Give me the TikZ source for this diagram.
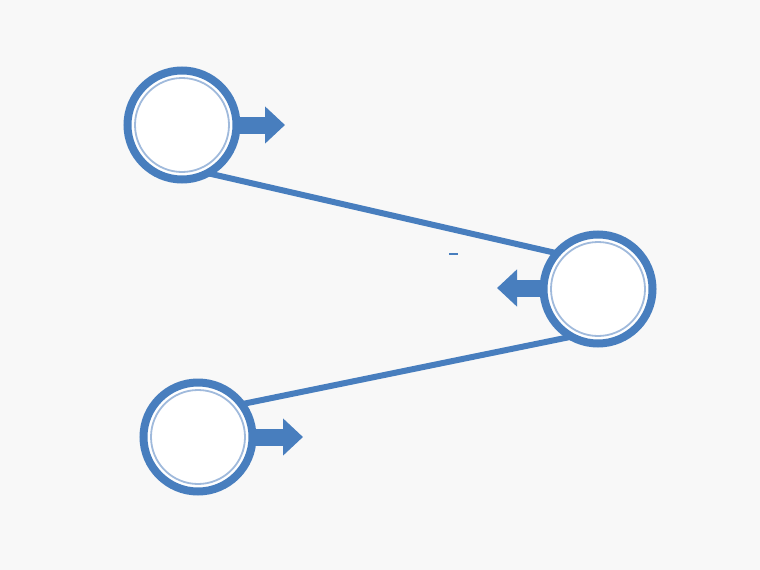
\documentclass[tikz,border=0pt]{standalone}
\usetikzlibrary{arrows.meta}
\definecolor{ringblue}{RGB}{72,126,190}
\definecolor{lightring}{RGB}{160,186,220}
\definecolor{bg}{RGB}{248,248,248}
\tikzset{
  bubble/.style={circle, draw=ringblue, line width=8pt, fill=white, minimum size=109pt, inner sep=0pt, outer sep=0pt,
    append after command={
      (\tikzlastnode.center) node[circle, draw=lightring, line width=1.8pt, minimum size=94pt, inner sep=0pt]{}}},
  link/.style={draw=ringblue, line width=6pt},
  pointer/.style={draw=ringblue, line width=17pt, -{Triangle[length=20pt,width=36pt]}}
}
\begin{document}
\begin{tikzpicture}[x=1pt,y=-1pt]
\fill[bg] (0,0) rectangle (760,570);
\useasboundingbox (0,0) rectangle (760,570);
% arrows (drawn first, shafts start inside rings)
\coordinate (t1) at (285,125);
\coordinate (t2) at (497,288);
\coordinate (t3) at (303,437);
\coordinate (s1) at (200,125);
\coordinate (s2) at (580,288);
\coordinate (s3) at (215,437);
\draw[pointer] (s1) -- (t1);
\draw[pointer] (s2) -- (t2);
\draw[pointer] (s3) -- (t3);
% circles
\node[bubble] (c1) at (182,125) {};
\node[bubble] (c2) at (598,289) {};
\node[bubble] (c3) at (198,437) {};
% connectors
\draw[link] (c1.-62) -- (c2.139);
\draw[link] (c2.-119) -- (c3.37);
% stray mark
\coordinate (m1) at (449,254);
\coordinate (m2) at (458,254);
\draw[ringblue, line width=1.5pt] (m1) -- (m2);
\end{tikzpicture}
\end{document}
